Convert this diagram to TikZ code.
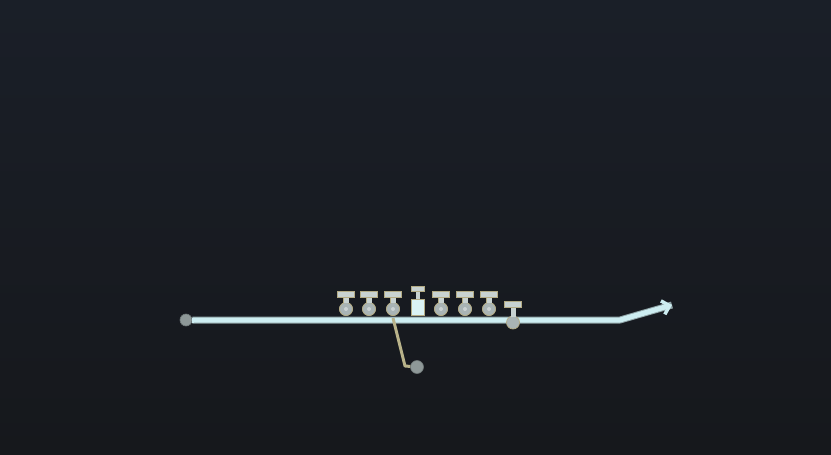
\documentclass[tikz,border=0pt]{standalone}
\usetikzlibrary{arrows.meta}
\definecolor{bgtop}{HTML}{1A1F28}
\definecolor{bgbot}{HTML}{16181C}
\definecolor{mainc}{HTML}{CDEDF1}
\definecolor{mainedge}{HTML}{8FA3A6}
\definecolor{cgray}{HTML}{8E9898}
\definecolor{cgrayd}{HTML}{6F7878}
\definecolor{branchc}{HTML}{B9B38A}
\definecolor{tanc}{HTML}{B3AB84}
\definecolor{barc}{HTML}{C8D2D1}
\definecolor{bulbc}{HTML}{A9B4B5}
\definecolor{boxc}{HTML}{DAF3F5}
\tikzset{
  commit/.style={circle, fill=cgray, draw=cgrayd, line width=0.6pt, minimum size=12pt, inner sep=0pt},
  mainedgeline/.style={line width=7pt, color=mainedge},
  mainline/.style={line width=5pt, color=mainc},
  branchline/.style={line width=3pt, color=branchc, line join=round},
  tagbulb/.style={circle, minimum size=13pt, fill=bulbc, draw=tanc, line width=0.7pt, inner sep=0pt},
  tagbar/.style={rectangle, minimum width=17pt, minimum height=5.5pt, fill=barc, draw=tanc, line width=0.7pt, inner sep=0pt},
  tagstemedge/.style={line width=6.2pt, color=tanc},
  tagstem/.style={line width=5pt, color=barc},
  tagbox/.style={rectangle, minimum width=13pt, minimum height=16pt, fill=boxc, draw=tanc, line width=0.5pt, inner sep=0pt}
}
\begin{document}
\begin{tikzpicture}[x=1pt,y=-1pt]
\shade[top color=bgtop, bottom color=bgbot] (0,0) rectangle (831,455);
\useasboundingbox (0,0) rectangle (831,455);
% main line
\node[commit] (c0) at (186,320) {};
\coordinate (bend) at (620,320);
\coordinate (tip) at (672,305);
\draw[mainedgeline, line join=round] (c0) -- (bend) -- (tip);
\draw[mainline, line join=round, -{Straight Barb[length=7pt,width=14pt,line width=3.5pt]}] (c0) -- (bend) -- (tip);
\fill[mainc] (c0.east) ++(0,-2.5) rectangle ++(2,5);
% branch
\coordinate (bp) at (393,318);
\coordinate (bcorner) at (405,366);
\node[commit, minimum size=13pt] (b1) at (417,367) {};
% tags with round bulbs
\foreach \i/\x in {1/346,2/369,3/393,5/441,6/465,7/489}{
  \node[tagbar] (tt\i) at (\x,294.5) {};
  \node[tagbulb] (tb\i) at (\x,309) {};
  \draw[tagstemedge] (tt\i.south) -- (tb\i.center);
  \node[tagbulb] at (tb\i) {};
  \draw[tagstem] (tt\i.south) -- ([yshift=-1pt]tb\i.north);
  \node[tagbar] at (tt\i) {};
  \fill[bulbc!60!white] (tb\i) circle (2pt);
}
% tag with box
\node[tagbar, minimum width=13pt, minimum height=5pt] (tt4) at (418,289) {};
\node[tagbox] (tb4) at (418,307) {};
\draw[tagstem, line width=4pt] (tt4.south) -- (tb4.north);
% low tag
\node[tagbar] (tt8) at (513,304.5) {};
\node[tagbulb] (tb8) at (513,322.5) {};
\draw[tagstem] (tt8.south) -- ([yshift=-1pt]tb8.north);
\node[tagbar] at (tt8) {};
% branch drawn over
\draw[branchline] (bp) -- (bcorner) -- (b1);
\end{tikzpicture}
\end{document}
